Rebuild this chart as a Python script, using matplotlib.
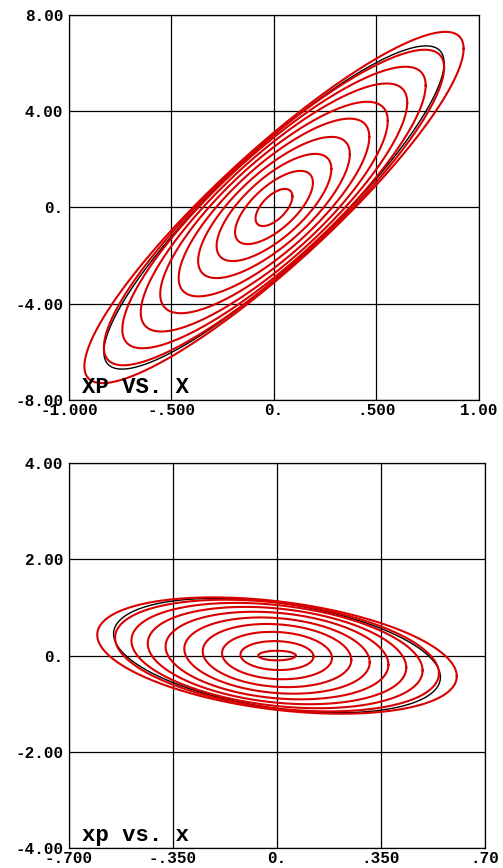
import matplotlib.pyplot as plt
import numpy as np

# Ellipse data: x extent, xp at x=0, xp at the x extent (tilt)
top_xmax = [0.09, 0.19, 0.28, 0.37, 0.465, 0.555, 0.65, 0.74, 0.83, 0.925]
top_xp0 = [0.62, 1.12, 1.55, 1.92, 2.25, 2.52, 2.75, 2.92, 3.04, 3.12]
top_tip = [0.46, 1.03, 1.60, 2.22, 2.93, 3.60, 4.36, 5.07, 5.81, 6.60]
top_ref = (0.83, 3.02, 6.0)

bot_xmax = [0.063, 0.123, 0.185, 0.25, 0.312, 0.375, 0.435, 0.49, 0.545, 0.605]
bot_xp0 = [0.10, 0.30, 0.49, 0.65, 0.78, 0.89, 0.98, 1.05, 1.10, 1.13]
bot_tip = [0.0, -0.02, -0.05, -0.09, -0.14, -0.19, -0.25, -0.31, -0.37, -0.43]
bot_ref = (0.55, 1.10, -0.45)

top_xticks = [-1.0, -0.5, 0.0, 0.5, 1.0]
top_xlabels = ['-1.000', '-.500', '0.', '.500', '1.00']
top_yticks = [-8, -4, 0, 4, 8]
top_ylabels = ['-8.00', '-4.00', '0.', '4.00', '8.00']

bot_xticks = [-0.7, -0.35, 0.0, 0.35, 0.7]
bot_xlabels = ['-.700', '-.350', '0.', '.350', '.70']
bot_yticks = [-4, -2, 0, 2, 4]
bot_ylabels = ['-4.00', '-2.00', '0.', '2.00', '4.00']

RED = '#d80000'
FONT = 'Liberation Mono'


def ellipse(a, b, tip):
    t = np.linspace(0, 2 * np.pi, 400)
    x = a * np.cos(t)
    return x, b * np.sin(t) + (tip / a) * x


def setup(ax, xt, xl, yt, yl, title):
    ax.set_xlim(xt[0], xt[-1])
    ax.set_ylim(yt[0], yt[-1])
    ax.set_xticks(xt)
    ax.set_xticklabels(xl)
    ax.set_yticks(yt)
    ax.set_yticklabels(yl)
    ax.grid(True, color='black', linewidth=0.9)
    ax.tick_params(length=0, pad=4, labelsize=11.5)
    ax.tick_params(axis='x', pad=2)
    for lab in ax.get_xticklabels() + ax.get_yticklabels():
        lab.set_fontfamily(FONT)
        lab.set_fontweight('bold')
    for s in ax.spines.values():
        s.set_linewidth(0.9)
    ax.text(0.032, 0.018, title, transform=ax.transAxes, fontsize=16,
            fontfamily=FONT, fontweight='bold', va='baseline')


fig = plt.figure(figsize=(5.03, 8.68), dpi=100)
ax1 = fig.add_axes([0.1372, 0.5392, 0.815, 0.4435])
ax2 = fig.add_axes([0.1372, 0.023, 0.827, 0.4435])

x, y = ellipse(*top_ref)
ax1.plot(x, y, color='black', lw=1.0)
for a, b, tp in zip(top_xmax, top_xp0, top_tip):
    x, y = ellipse(a, b, tp)
    ax1.plot(x, y, color=RED, lw=1.5)
setup(ax1, top_xticks, top_xlabels, top_yticks, top_ylabels, 'XP VS. X')

x, y = ellipse(*bot_ref)
ax2.plot(x, y, color='black', lw=1.0)
for a, b, tp in zip(bot_xmax, bot_xp0, bot_tip):
    x, y = ellipse(a, b, tp)
    ax2.plot(x, y, color=RED, lw=1.5)
setup(ax2, bot_xticks, bot_xlabels, bot_yticks, bot_ylabels, 'xp vs. x')

fig.savefig('out.png', dpi=100)
